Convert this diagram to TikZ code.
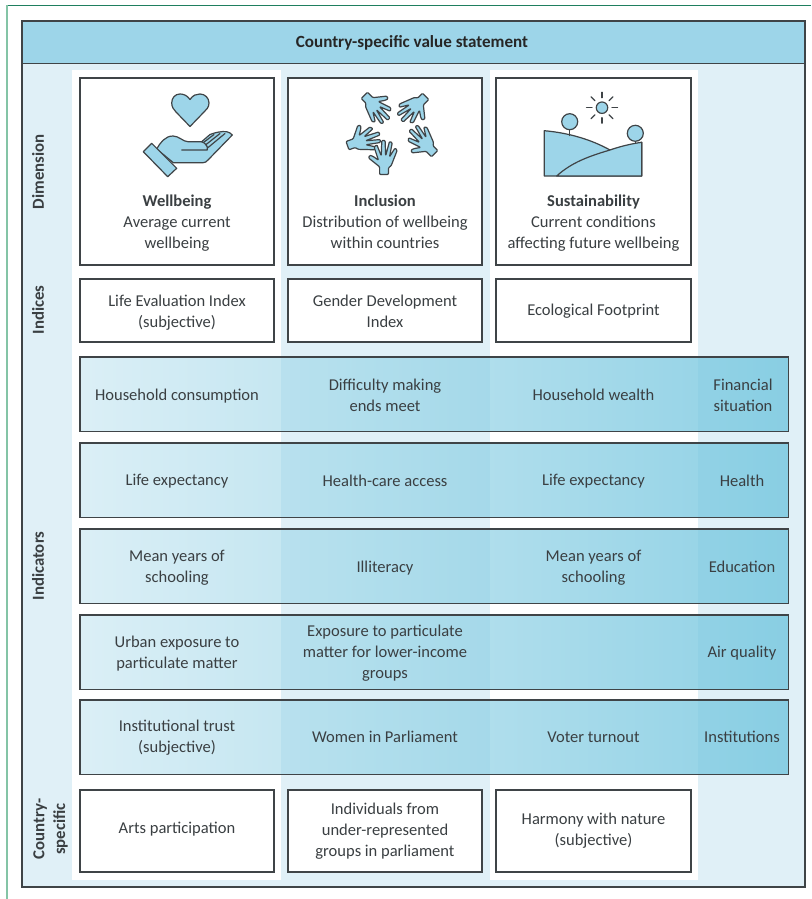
\documentclass[tikz,border=0pt]{standalone}
\usepackage{fontspec}
\setmainfont{Carlito}
\definecolor{lightb}{HTML}{E0F0F7}
\definecolor{headb}{HTML}{9DD5E9}
\definecolor{iconb}{HTML}{9DD5E9}
\definecolor{inkc}{HTML}{3A3F42}
\definecolor{linec}{HTML}{3F4447}
\definecolor{bandl}{HTML}{DBEFF6}
\definecolor{bandr}{HTML}{8FD1E5}
\definecolor{tintc}{HTML}{5FBCDC}
\definecolor{rulea}{HTML}{1F7F5F}
\definecolor{ruleb}{HTML}{84C4A6}
\tikzset{
  x=0.75pt,y=-0.75pt,
  txt/.style={text=inkc,align=center,inner sep=0pt,yshift=-1.1pt,font=\fontsize{12.4}{15.75}\selectfont},
  sidelab/.style={text=inkc,align=center,inner sep=0pt,rotate=90,font=\bfseries\fontsize{12.6}{15.5}\selectfont},
  whitebox/.style={draw=linec,line width=0.9pt,fill=white,inner sep=0pt},
  wa/.style={whitebox,minimum width=194*0.75pt},
  wb/.style={whitebox,minimum width=195*0.75pt},
  icon/.style={draw=linec,line width=0.9pt,fill=iconb,line join=round},
  iconline/.style={draw=linec,line width=0.9pt,line cap=round,line join=round},
  palm/.pic={
    \path[icon,rounded corners=0.7pt] (-4,15) -- (-4,8) -- (-14,0) -- (-13,-2.5) -- (-10,-1.5) -- (-5,2)
      -- (-9,-10) -- (-6.5,-12) -- (-2.5,-2) -- (-2,-16) -- (1,-16) -- (1.5,-2)
      -- (5,-15) -- (7.5,-14) -- (5,-1) -- (10,-9) -- (12,-7) -- (6.5,7) -- (4,9) -- (4,15) -- cycle;
  }
}
\begin{document}
\begin{tikzpicture}
\useasboundingbox (0,0) rectangle (811,899);
\fill[white] (0,0) rectangle (811,899);
% page rules
\draw[draw=rulea,line width=0.7pt] (6,5.5) -- (811,5.5);
\draw[draw=ruleb,line width=1.6pt] (7,5) -- (7,899);
% panel
\fill[lightb] (22,21) rectangle (805,887);
\fill[white] (72,70) rectangle (281,880);
\fill[white] (490,70) rectangle (698,880);
\node[draw=linec,line width=0.9pt,fill=headb,minimum width=783*0.75pt,minimum height=42*0.75pt,inner sep=0pt,anchor=north west] (head) at (22,21) {};
\node[text=black!85,inner sep=0pt,font=\bfseries\fontsize{12.8}{15}\selectfont] (headtxt) at (412,43) {Country-specific value statement};
\draw[draw=linec,line width=0.9pt] (22,21) rectangle (805,887);
% bands
\foreach \nm/\ya/\yb in {band1/357/431,band2/443/517,band3/529/603,band4/615/689,band5/700/774}{
  \node[left color=bandl,right color=bandr,anchor=north west,minimum width=708*0.75pt,minimum height={(\yb-\ya)*0.75pt},inner sep=0pt] (\nm) at (80,\ya) {};
  \fill[tintc,opacity=.12] (281,\ya) rectangle (490,\yb);
  \fill[tintc,opacity=.12] (698,\ya) rectangle (788,\yb);
  \draw[draw=linec,line width=0.9pt] (\nm.north west) rectangle (\nm.south east);
}
% dimension boxes
\node[wa,minimum height=187*0.75pt] (d1) at (177,171.5) {};
\node[wa,minimum height=187*0.75pt] (d2) at (385,171.5) {};
\node[wb,minimum height=187*0.75pt] (d3) at (593.5,171.5) {};
\node[txt] (d1t) at (177,221.5) {\textbf{Wellbeing}\\Average current\\wellbeing};
\node[txt] (d2t) at (385,220) {\textbf{Inclusion}\\Distribution of wellbeing\\within countries};
\node[txt] (d3t) at (593.5,221.5) {\textbf{Sustainability}\\Current conditions\\affecting future wellbeing};
% indices
\node[wa,minimum height=63*0.75pt] (i1) at (177,310.5) {};
\node[wa,minimum height=63*0.75pt] (i2) at (385,310.5) {};
\node[wb,minimum height=63*0.75pt] (i3) at (593.5,310.5) {};
\node[txt] (i1t) at (177,311) {Life Evaluation Index\\(subjective)};
\node[txt] (i2t) at (385,309.5) {Gender Development\\Index};
\node[txt] (i3t) at (593.5,309.5) {Ecological Footprint};
% bottom
\node[wa,minimum height=82*0.75pt] (c1) at (177,831) {};
\node[wa,minimum height=82*0.75pt] (c2) at (385,831) {};
\node[wb,minimum height=82*0.75pt] (c3) at (593.5,831) {};
\node[txt] (c1t) at (177,827.5) {Arts participation};
\node[txt] (c2t) at (385,829.5) {Individuals from\\under-represented\\groups in parliament};
\node[txt] (c3t) at (593.5,829) {Harmony with nature\\(subjective)};
% band text
\node[txt] (t11) at (177,394.5) {Household consumption};
\node[txt] (t12) at (385,394) {Difficulty making\\ends meet};
\node[txt] (t13) at (593.5,393.5) {Household wealth};
\node[txt] (t14) at (743,394) {Financial\\situation};
\node[txt] (t21) at (177,479.5) {Life expectancy};
\node[txt] (t22) at (385,479.5) {Health-care access};
\node[txt] (t23) at (593.5,479.5) {Life expectancy};
\node[txt] (t24) at (742,479.5) {Health};
\node[txt] (t31) at (177,566) {Mean years of\\schooling};
\node[txt] (t32) at (385,567) {Illiteracy};
\node[txt] (t33) at (593.5,566) {Mean years of\\schooling};
\node[txt] (t34) at (742,565) {Education};
\node[txt] (t41) at (177,652) {Urban exposure to\\particulate matter};
\node[txt] (t42) at (385,652) {Exposure to particulate\\matter for lower-income\\groups};
\node[txt] (t44) at (742,651.5) {Air quality};
\node[txt] (t51) at (177,736.5) {Institutional trust\\(subjective)};
\node[txt] (t52) at (385,735.5) {Women in Parliament};
\node[txt] (t53) at (593.5,735.5) {Voter turnout};
\node[txt] (t54) at (742,735.5) {Institutions};
% side labels
\node[sidelab] (s1) at (38,172) {Dimension};
\node[sidelab] (s2) at (38,310) {Indices};
\node[sidelab] (s3) at (38,566) {Indicators};
\node[sidelab] (s4) at (50.5,829) {Country-\\specific};
% heart and hand icon
\path[icon] (190,99.5) .. controls (187,95) and (183,94) .. (180,94) .. controls (175,94) and (171.7,98) .. (171.7,103) .. controls (171.7,107) and (174,110) .. (176,112) -- (190,126.5) -- (204,112) .. controls (206.5,110) and (209,107) .. (209,103) .. controls (209,98) and (205,94) .. (200,94) .. controls (196.5,94) and (193,95) .. (190,99.5) -- cycle;
\path[icon] (156.7,149) .. controls (160,143) and (165,136) .. (173,136) .. controls (179,136) and (183,141.7) .. (188,141.7) -- (201.7,141.7) -- (210,134.5) .. controls (215,132.5) and (222,131) .. (226.7,131.7) .. controls (229,132) and (231,133.5) .. (232.3,135) -- (208,160) .. controls (206.5,161.8) and (205,162.7) .. (203,162.7) -- (173.3,162.7) -- cycle;
\path[icon] (143.3,151.7) -- (151.7,143.3) -- (176.7,168.3) -- (167.7,176.7) -- cycle;
\path[iconline] (181.7,150) -- (207.3,150) .. controls (208,146) and (206,143.5) .. (201.7,141.7);
\path[iconline] (203.5,142.5) -- (214,134.5);
\path[iconline] (205.5,145) -- (220,133.5);
\path[iconline] (207.5,148) -- (225,133.5);
% five hands
\pic[rotate=-135,scale=1.1] (h1) at (376,107) {palm};
\pic[rotate=135,scale=1.1] (h2) at (414,108) {palm};
\pic[rotate=45,scale=1.1] (h3) at (423,142) {palm};
\pic[rotate=-70,scale=1.1] (h4) at (363,140) {palm};
\pic[scale=1.1] (h5) at (384,158) {palm};
% landscape
\path[icon] (544.3,130.7) .. controls (570,133) and (592,140) .. (610,150) -- (641.7,142.3) -- (641.7,176) -- (544.3,176) -- cycle;
\path[icon] (556.7,176) .. controls (572,162) and (590,156) .. (610,150) .. controls (620,146.5) and (630,144) .. (641.7,142.3) -- (641.7,176) -- cycle;
\path[iconline] (569.7,129.7) -- (569.7,135.5);
\path[iconline] (635.3,141) -- (635.3,143);
\path[icon] (569.7,121.7) circle[radius=6pt];
\path[icon] (635.3,133.3) circle[radius=6pt];
\path[icon] (602,107.7) circle[radius=4.3pt];
\foreach \a in {0,45,...,315}{
  \path[iconline] (602,107.7) ++(\a:7.5pt) -- ++(\a:4.1pt);
}
\end{tikzpicture}
\end{document}
